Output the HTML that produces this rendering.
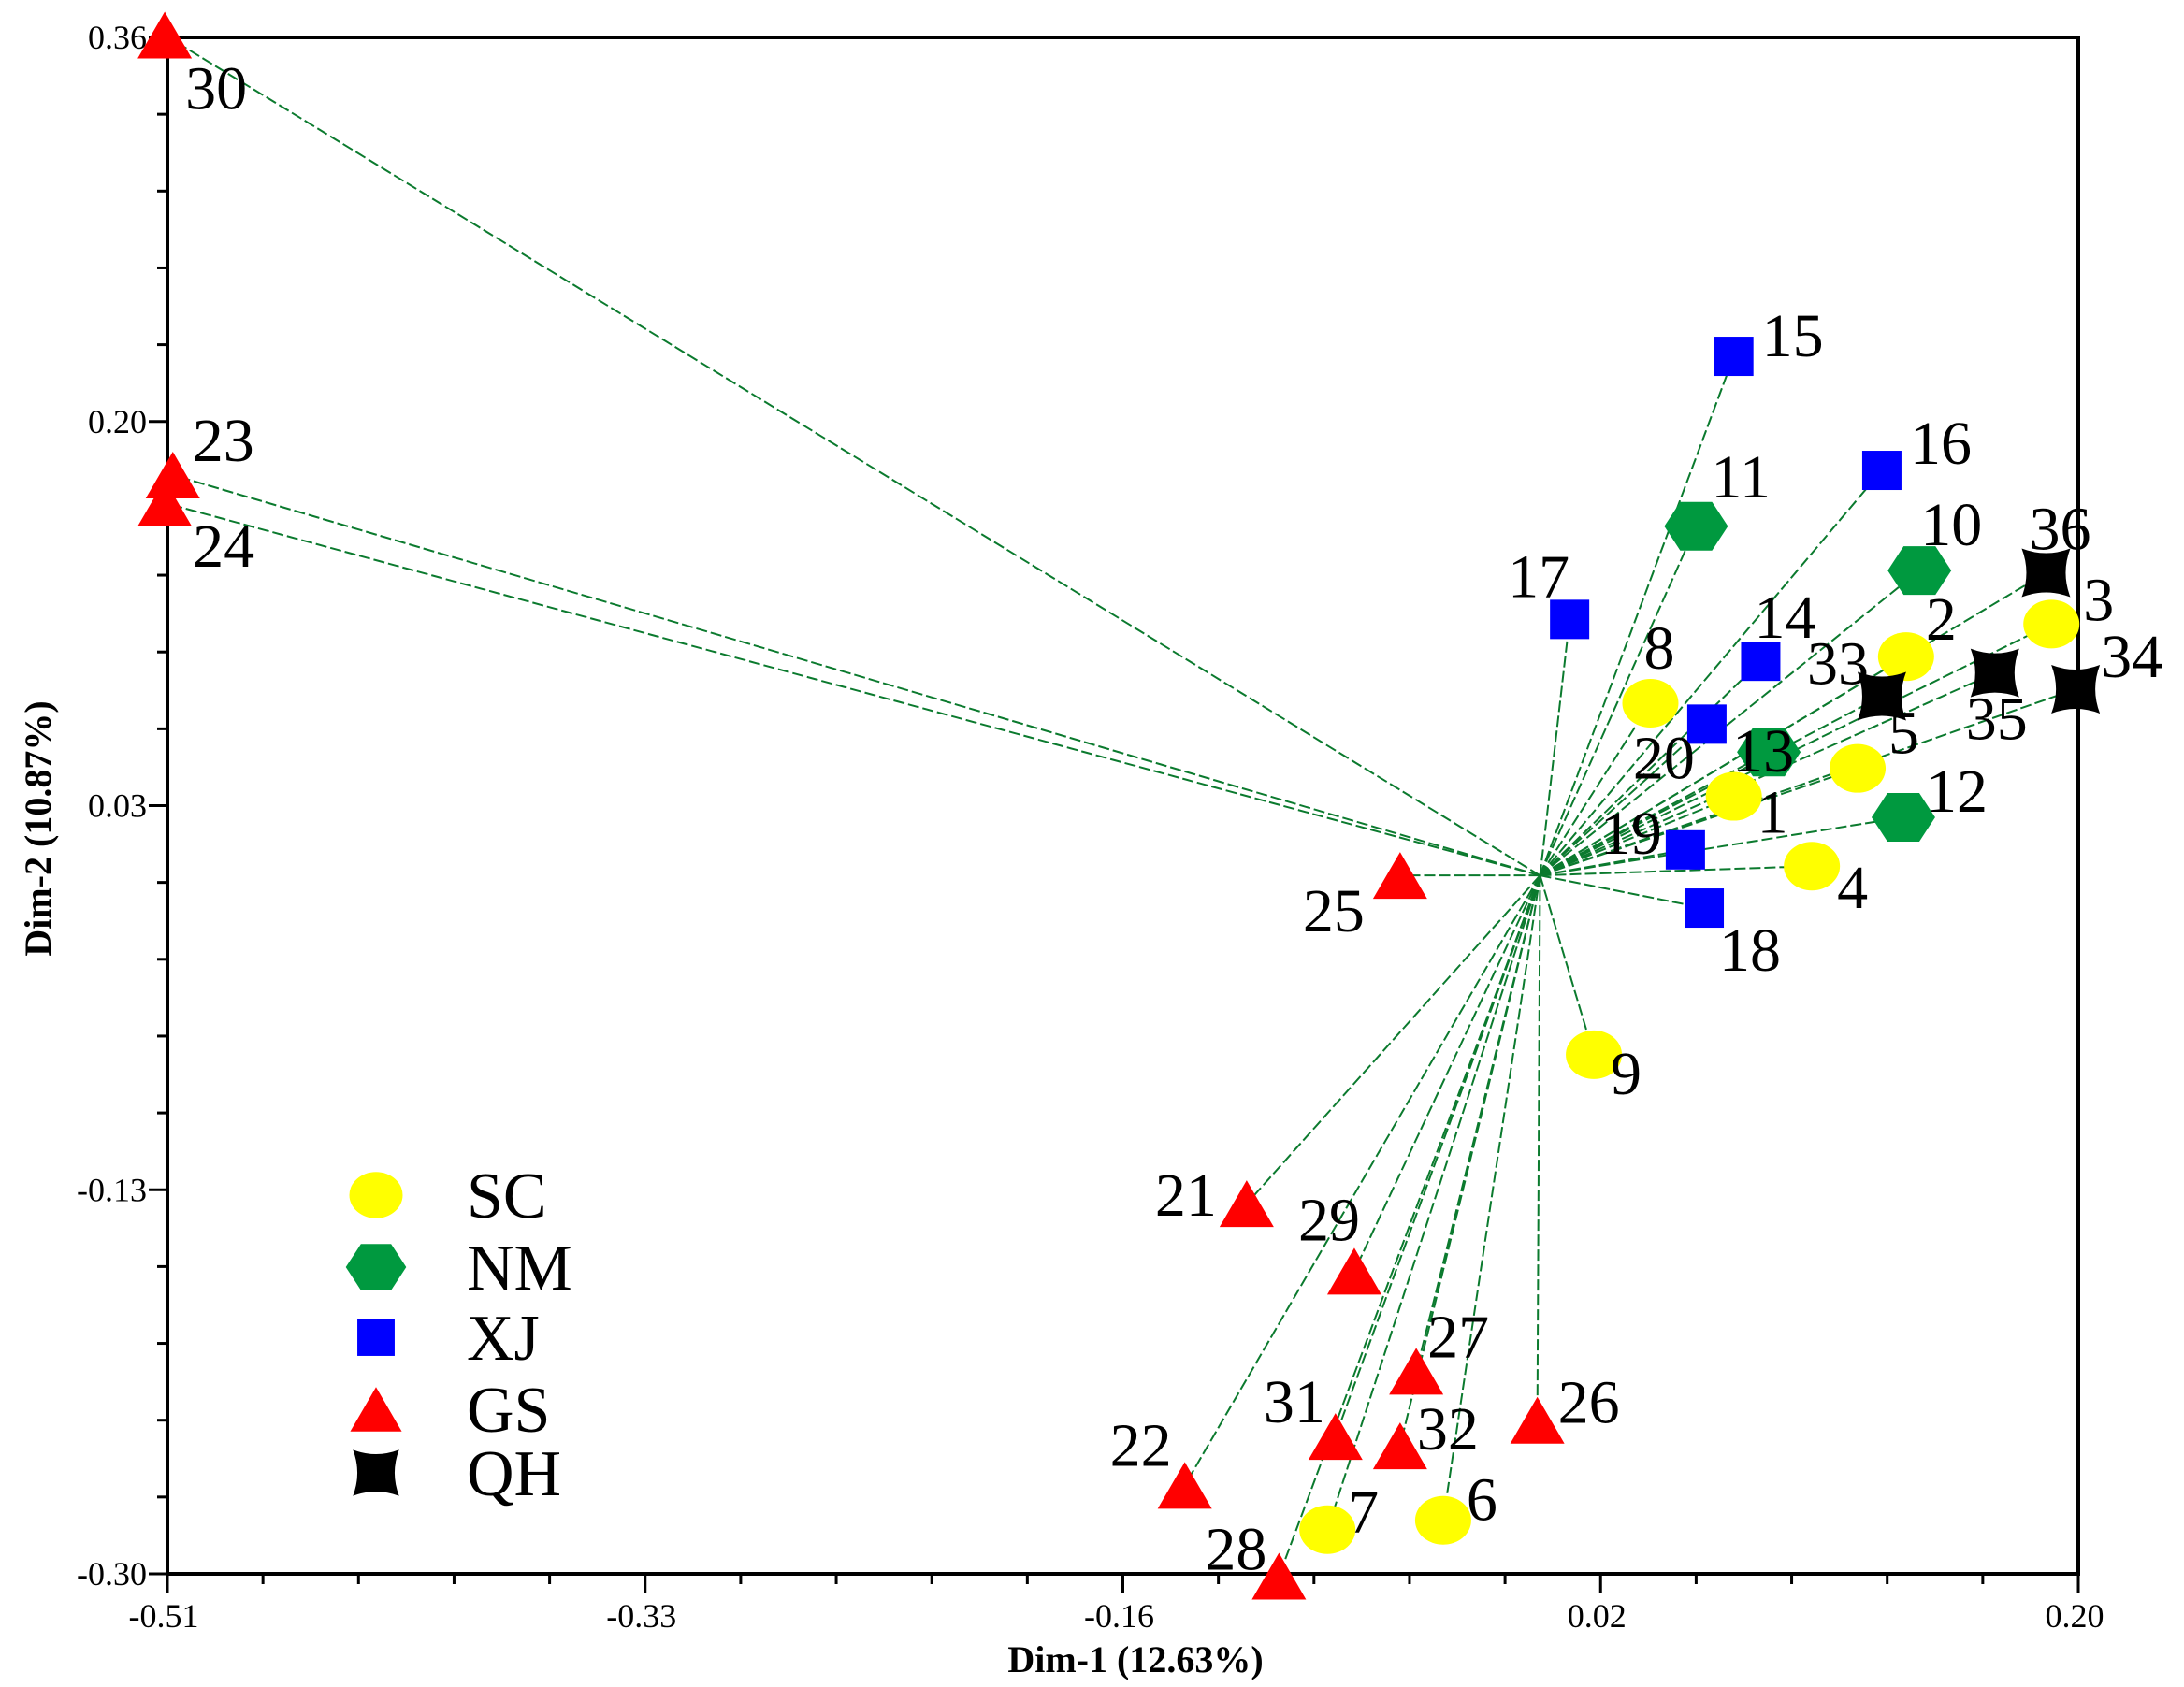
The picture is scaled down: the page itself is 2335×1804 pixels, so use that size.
<!DOCTYPE html>
<html><head><meta charset="utf-8">
<style>
html,body{margin:0;padding:0;background:#fff;}
svg{display:block;}
text{font-family:"Liberation Serif",serif;fill:#000;}
</style></head>
<body>
<svg id="chart" width="2335" height="1804" viewBox="0 0 2335 1804" xmlns="http://www.w3.org/2000/svg">
<g id="lines"></g>
<g id="axes"></g>
<g id="marks"></g>
<g id="labels"></g>
<g id="legend"></g>
</svg>
<script>
// ---- data ----
const ids =    ['8','2','3','5','1','4','9','7','6','11','10','13','12','15','16','17','14','20','19','18','30','23','24','25','21','29','27','26','31','32','22','28','36','33','35','34'];
const groups = ['SC','SC','SC','SC','SC','SC','SC','SC','SC','NM','NM','NM','NM','XJ','XJ','XJ','XJ','XJ','XJ','XJ','GS','GS','GS','GS','GS','GS','GS','GS','GS','GS','GS','GS','QH','QH','QH','QH'];
const dim1 = [0.041,0.136,0.190,0.118,0.072,0.101,0.020,-0.079,-0.036,0.058,0.141,0.085,0.135,0.072,0.127,0.011,0.082,0.062,0.054,0.061,-0.511,-0.508,-0.511,-0.052,-0.109,-0.069,-0.046,-0.001,-0.076,-0.052,-0.132,-0.097,0.188,0.127,0.169,0.199];
const dim2 = [0.074,0.094,0.108,0.046,0.034,0.004,-0.077,-0.281,-0.277,0.150,0.131,0.053,0.025,0.223,0.174,0.110,0.092,0.065,0.011,-0.014,0.361,0.172,0.160,0.000,-0.141,-0.170,-0.213,-0.234,-0.241,-0.245,-0.262,-0.301,0.130,0.077,0.087,0.080];
const xTickLabels = ['-0.51','-0.33','-0.16','0.02','0.20'];
const yTickLabels = ['0.36','0.20','0.03','-0.13','-0.30'];
const legendGroups = ['SC','NM','XJ','GS','QH'];
// label offsets (style, px)
const labelDX = [-7,21,34,33,25,27,18,22,25,16,1,-39,24,30,30,-66,-7,-79,-91,16,22,21,30,-104,-98,-60,12,22,-77,18,-80,-79,-18,-80,-31,27];
const labelDY = [-37,-18,-4,-16,39,45,42,3,0,-31,-27,21,-6,0,-7,-24,-25,58,4,67,79,-15,68,60,13,-33,-15,3,-15,4,-21,-7,-25,-13,71,-13];

// ---- scales ----
const X0=179, X1=2222, Y0=40, Y1=1683;
const xMin=-0.51, xMax=0.20, yMin=-0.30, yMax=0.36;
const sx = v => X0 + (v-xMin)/(xMax-xMin)*(X1-X0);
const sy = v => Y1 - (v-yMin)/(yMax-yMin)*(Y1-Y0);
const NS='http://www.w3.org/2000/svg';
function mk(tag, attrs, parent){const e=document.createElementNS(NS,tag);for(const k in attrs)e.setAttribute(k,attrs[k]);parent.appendChild(e);return e;}
const colors={SC:'#ffff00',NM:'#00993f',XJ:'#0000ff',GS:'#ff0000',QH:'#000000'};

function marker(g, cx, cy, parent, scale){
  scale=scale||1; let e;
  if(g==='SC'){ e=mk('ellipse',{cx:cx,cy:cy,rx:30*scale,ry:26*scale,fill:colors.SC},parent); }
  else if(g==='NM'){ const w=34*scale,h=26*scale,q=17*scale;
    e=mk('polygon',{points:`${cx-w},${cy} ${cx-q},${cy-h} ${cx+q},${cy-h} ${cx+w},${cy} ${cx+q},${cy+h} ${cx-q},${cy+h}`,fill:colors.NM},parent); }
  else if(g==='XJ'){ const s=21*scale; e=mk('rect',{x:cx-s,y:cy-s,width:2*s,height:2*s,fill:colors.XJ},parent); }
  else if(g==='GS'){ const w=29*scale,h=25*scale;
    e=mk('polygon',{points:`${cx},${cy-h} ${cx+w},${cy+h} ${cx-w},${cy+h}`,fill:colors.GS},parent); }
  else { const s=26*scale,c=10*scale;
    e=mk('path',{d:`M${cx-s},${cy-s} Q${cx},${cy-s+c} ${cx+s},${cy-s} Q${cx+s-c},${cy} ${cx+s},${cy+s} Q${cx},${cy+s-c} ${cx-s},${cy+s} Q${cx-s+c},${cy} ${cx-s},${cy-s} Z`,fill:colors.QH},parent); }
  return e;
}

// ---- axes ----
const axes=document.getElementById('axes');
const frame=mk('rect',{x:X0,y:Y0,width:X1-X0,height:Y1-Y0,fill:'none',stroke:'#000','stroke-width':4},axes);


for(let i=0;i<=20;i++){
  const x=X0+(X1-X0)*i/20, major=i%5===0;
  const t=mk('line',{x1:x,y1:Y1,x2:x,y2:Y1+(major?20:11),stroke:'#000','stroke-width':3},axes);
  
  
  const y=Y0+(Y1-Y0)*i/20;
  const u=mk('line',{x1:X0,y1:y,x2:X0-(major?20:11),y2:y,stroke:'#000','stroke-width':3},axes);
  
  
}
xTickLabels.forEach((l,i)=>{
  const t=mk('text',{x:X0+(X1-X0)*i/4-4,y:1740,'text-anchor':'middle','font-size':36},axes);
  t.textContent=l;
  
  
});
yTickLabels.forEach((l,i)=>{
  const t=mk('text',{x:157,y:Y0+(Y1-Y0)*i/4+12,'text-anchor':'end','font-size':36},axes);
  t.textContent=l;
  
  
});
const xt=mk('text',{x:1214,y:1788,'text-anchor':'middle','font-size':40,'font-weight':'bold'},axes);
xt.textContent='Dim-1 (12.63%)';


const yt=mk('text',{x:0,y:0,'text-anchor':'middle','font-size':40,'font-weight':'bold',transform:'translate(54,886) rotate(-90)'},axes);
yt.textContent='Dim-2 (10.87%)';



// ---- series ----
const linesG=document.getElementById('lines'), marksG=document.getElementById('marks'), labG=document.getElementById('labels');
const ox=sx(0), oy=sy(0);
ids.forEach((id,i)=>{
  const cx=sx(dim1[i]), cy=sy(dim2[i]);
  const ln=mk('line',{x1:ox,y1:oy,x2:cx,y2:cy,stroke:'#0b7a2e','stroke-width':2,'stroke-dasharray':'12 4'},linesG);
  
  
  const m=marker(groups[i],cx,cy,marksG);
  
  
  const t=mk('text',{x:cx+labelDX[i],y:cy+labelDY[i],'font-size':66},labG);
  t.textContent=id;
  
  
});

// ---- legend ----
const legG=document.getElementById('legend');
const legY=[1278,1355,1430,1507,1575];
legendGroups.forEach((g,i)=>{
  const m=marker(g,402,legY[i],legG,0.95);
  
  
  const t=mk('text',{x:499,y:legY[i]+24,'font-size':70},legG);
  t.textContent=g;
  
  
});
</script>
</body></html>
